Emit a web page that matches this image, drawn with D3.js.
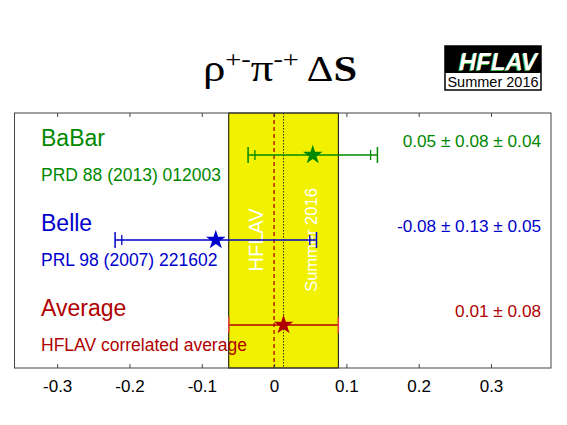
<!DOCTYPE html>
<html>
<head>
<meta charset="utf-8">
<script src="https://cdn.jsdelivr.net/npm/d3@7"></script>
<style>
  body { margin: 0; background: #fff; }
  text { font-family: "Liberation Sans", Arial, sans-serif; }
</style>
</head>
<body>
<div id="chart"></div>
<script>
// measurements
const experiments = ["BaBar", "Belle", "Average"];
const references = ["PRD 88 (2013) 012003", "PRL 98 (2007) 221602", "HFLAV correlated average"];
const values = [0.0535, -0.0806, 0.0131];
const statErrors = [0.08, 0.13, 0.0758];
const systErrors = [0.04, 0.05, 0];
const valueLabels = ["0.05 \u00b1 0.08 \u00b1 0.04", "-0.08 \u00b1 0.13 \u00b1 0.05", "0.01 \u00b1 0.08"];
const colors = ["#008800", "#0000cc", "#b00000"];
const tickValues = [-0.3, -0.2, -0.1, 0, 0.1, 0.2, 0.3];

const width = 567;
const height = 425;
const svg = d3.select('#chart').append('svg')
    .attr('width', width)
    .attr('height', height);

const frame = {left: 14.5, right: 551, top: 113, bottom: 368};
const x = d3.scaleLinear().domain([-0.359, 0.383]).range([frame.left, frame.right]);
const y = d3.scaleLinear().domain([0, 2]).range([155, 325]);

// average band
const avg = values[2], avgErr = statErrors[2];
svg.append('rect')
    .attr('x', x(avg - avgErr))
    .attr('y', frame.top)
    .attr('width', x(avg + avgErr) - x(avg - avgErr))
    .attr('height', frame.bottom - frame.top)
    .attr('fill', '#f2f200')
    .attr('stroke', '#000')
    .attr('stroke-width', 1);

// zero line and average line
svg.append('line')
    .attr('x1', x(0)).attr('x2', x(0))
    .attr('y1', frame.top).attr('y2', frame.bottom)
    .attr('stroke', '#b00000').attr('stroke-width', 1.3)
    .attr('stroke-dasharray', '4,3');
svg.append('line')
    .attr('x1', x(avg)).attr('x2', x(avg))
    .attr('y1', frame.top).attr('y2', frame.bottom)
    .attr('stroke', '#000').attr('stroke-width', 0.8)
    .attr('stroke-dasharray', '1.5,1.5');

// watermark text in band
svg.append('text')
    .attr('transform', `translate(${x(-0.015)},240) rotate(-90)`)
    .attr('text-anchor', 'middle')
    .attr('fill', '#fff')
    .style('font-size', '20px')
    .text('HFLAV');
svg.append('text')
    .attr('transform', `translate(${x(0.0596)},240) rotate(-90)`)
    .attr('text-anchor', 'middle')
    .attr('fill', '#fff')
    .style('font-size', '16.5px')
    .text('Summer 2016');

// frame
svg.append('rect')
    .attr('x', frame.left).attr('y', frame.top)
    .attr('width', frame.right - frame.left)
    .attr('height', frame.bottom - frame.top)
    .attr('fill', 'none')
    .attr('stroke', '#444')
    .attr('stroke-width', 1);

// axes
const axis = d3.axisBottom(x)
    .tickValues(tickValues)
    .tickSize(-4)
    .tickPadding(12)
    .tickFormat(d => d === 0 ? '0' : d.toFixed(1));
const gAxis = svg.append('g')
    .attr('transform', `translate(0,${frame.bottom})`)
    .call(axis);
gAxis.select('.domain').remove();
gAxis.selectAll('line').attr('stroke', '#444');
gAxis.selectAll('text')
    .style('font-size', '17px')
    .attr('fill', '#000')
    .style('font-family', '"Liberation Sans", Arial, sans-serif');

const topAxis = d3.axisTop(x).tickValues(tickValues).tickSize(-4).tickFormat('');
const gTop = svg.append('g')
    .attr('transform', `translate(0,${frame.top})`)
    .call(topAxis);
gTop.select('.domain').remove();
gTop.selectAll('line').attr('stroke', '#444');

// rows
experiments.forEach((name, i) => {
    const cy = y(i);
    const c = colors[i];
    const v = values[i];
    const stat = statErrors[i];
    const tot = Math.sqrt(stat * stat + systErrors[i] * systErrors[i]);
    const g = svg.append('g');
    const capColor = i === 2 ? '#e04040' : c;

    g.append('line')
        .attr('x1', x(v - tot)).attr('x2', x(v + tot))
        .attr('y1', cy).attr('y2', cy)
        .attr('stroke', c).attr('stroke-width', 1.3);

    // outer caps (total error)
    [v - tot, v + tot].forEach(p => {
        g.append('line')
            .attr('x1', x(p)).attr('x2', x(p))
            .attr('y1', cy - 8).attr('y2', cy + 8)
            .attr('stroke', capColor).attr('stroke-width', 1.5);
    });
    // inner caps (stat error)
    if (systErrors[i] > 0) {
        [v - stat, v + stat].forEach(p => {
            g.append('line')
                .attr('x1', x(p)).attr('x2', x(p))
                .attr('y1', cy - 5).attr('y2', cy + 5)
                .attr('stroke', c).attr('stroke-width', 1.3);
        });
    }

    g.append('path')
        .attr('d', d3.symbol().type(d3.symbolStar).size(120)())
        .attr('transform', `translate(${x(v)},${cy})`)
        .attr('fill', c);

    // labels
    g.append('text')
        .attr('x', 41).attr('y', cy - 9)
        .attr('fill', c)
        .style('font-size', '23px')
        .text(name);
    g.append('text')
        .attr('x', 41).attr('y', cy + 26)
        .attr('fill', c)
        .style('font-size', '17.5px')
        .text(references[i]);
    g.append('text')
        .attr('x', 541).attr('y', cy - 8)
        .attr('text-anchor', 'end')
        .attr('fill', c)
        .style('font-size', '17.2px')
        .text(valueLabels[i]);
});

// title (the original is drawn a bit wide, so stretch it horizontally)
const title = svg.append('text')
    .attr('transform', 'translate(203,81) scale(1.18,1)')
    .style('font-family', '"Liberation Serif", "Times New Roman", serif')
    .attr('fill', '#000');
title.append('tspan').style('font-size', '38px').text('\u03c1');
title.append('tspan').attr('dy', -14).style('font-size', '24px').text('+-');
title.append('tspan').attr('dy', 14).style('font-size', '38px').text('\u03c0');
title.append('tspan').attr('dy', -14).style('font-size', '24px').text('-+');
title.append('tspan').attr('dy', 14).style('font-size', '35px').text(' \u0394');
title.append('tspan').style('font-size', '36px').style('font-weight', 'bold').text('S');

// HFLAV logo
const logo = svg.append('g').attr('transform', 'translate(445,46)');
logo.append('rect')
    .attr('width', 96).attr('height', 44)
    .attr('fill', '#fff').attr('stroke', '#000').attr('stroke-width', 1.5);
logo.append('rect')
    .attr('width', 96).attr('height', 27)
    .attr('fill', '#000');
logo.append('text')
    .attr('x', 52).attr('y', 24.5)
    .attr('text-anchor', 'middle')
    .attr('fill', '#3cb83c')
    .style('font-size', '24px').style('font-weight', 'bold').style('font-style', 'italic')
    .text('HFLAV');
logo.append('text')
    .attr('x', 53).attr('y', 24)
    .attr('text-anchor', 'middle')
    .attr('fill', '#fff')
    .style('font-size', '24px').style('font-weight', 'bold').style('font-style', 'italic')
    .text('HFLAV');
logo.append('text')
    .attr('x', 48).attr('y', 41)
    .attr('text-anchor', 'middle')
    .attr('fill', '#000')
    .style('font-size', '14.5px')
    .text('Summer 2016');
</script>
</body>
</html>
